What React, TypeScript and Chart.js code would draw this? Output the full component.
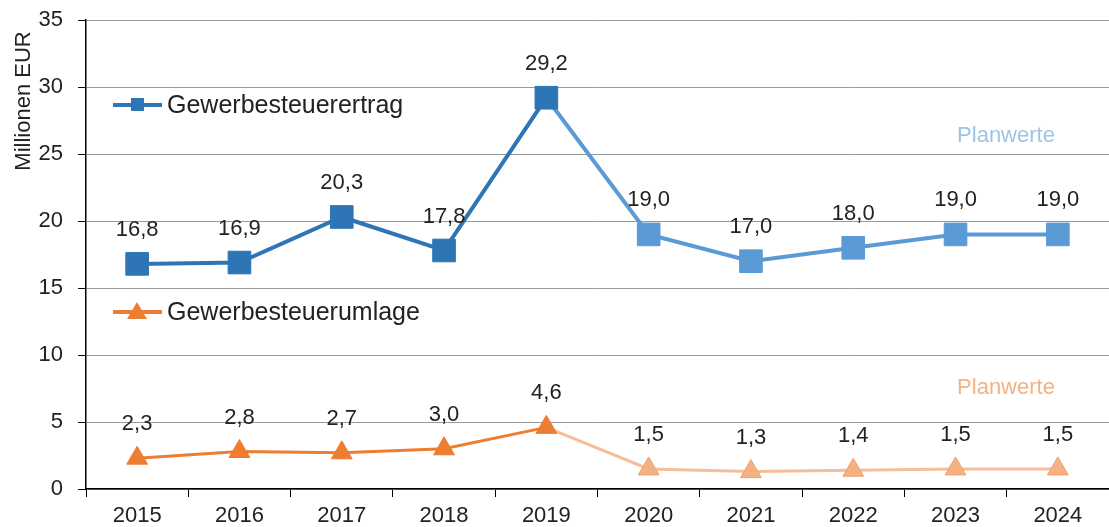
import React, { useEffect, useRef } from "react";
import { Chart, registerables } from "chart.js";

Chart.register(...registerables);

const years = ["2015", "2016", "2017", "2018", "2019", "2020", "2021", "2022", "2023", "2024"];
const ertrag = [16.8, 16.9, 20.3, 17.8, 29.2, 19.0, 17.0, 18.0, 19.0, 19.0];
const umlage = [2.3, 2.8, 2.7, 3.0, 4.6, 1.5, 1.3, 1.4, 1.5, 1.5];
const firstPlanIndex = 5;
const seriesNames = ["Gewerbesteuerertrag", "Gewerbesteuerumlage"];
const planLabel = "Planwerte";
const yTitle = "Millionen EUR";

const FONT = "'Liberation Sans', Arial, sans-serif";
const BLUE = "#2E75B6";
const BLUE_L = "#5B9BD5";
const ORANGE = "#ED7D31";
const ORANGE_L = "#F4B183";

const fmt = (v: number) => v.toFixed(1).replace(".", ",");

const overlay = {
  id: "overlay",
  afterDatasetsDraw(chart: any) {
    const ctx = chart.ctx;
    ctx.save();
    // data labels
    ctx.font = `22px ${FONT}`;
    ctx.fillStyle = "#222";
    ctx.textAlign = "center";
    ctx.textBaseline = "middle";
    chart.data.datasets.forEach((ds: any, di: number) => {
      const meta = chart.getDatasetMeta(di);
      meta.data.forEach((pt: any, i: number) => {
        ctx.fillText(fmt(ds.data[i]), pt.x, pt.y - 34);
      });
    });
    // legends
    const drawLegend = (y: number, color: string, style: string, text: string) => {
      ctx.strokeStyle = color;
      ctx.lineWidth = 4;
      ctx.beginPath();
      ctx.moveTo(113, y);
      ctx.lineTo(162, y);
      ctx.stroke();
      ctx.fillStyle = color;
      ctx.beginPath();
      if (style === "rect") {
        ctx.rect(131, y - 7, 13, 13);
      } else {
        ctx.moveTo(137, y - 10);
        ctx.lineTo(147, y + 7);
        ctx.lineTo(127, y + 7);
        ctx.closePath();
      }
      ctx.fill();
      ctx.fillStyle = "#222";
      ctx.font = `25px ${FONT}`;
      ctx.textAlign = "left";
      ctx.textBaseline = "middle";
      ctx.fillText(text, 167, y + 1);
    };
    drawLegend(105, BLUE, "rect", seriesNames[0]);
    drawLegend(312, ORANGE, "triangle", seriesNames[1]);
    // Planwerte
    ctx.font = `22px ${FONT}`;
    ctx.textAlign = "center";
    ctx.textBaseline = "middle";
    ctx.fillStyle = "#9DC3E6";
    ctx.fillText(planLabel, 1006, 136);
    ctx.fillStyle = ORANGE_L;
    ctx.fillText(planLabel, 1006, 388);
    // y title
    ctx.translate(30, 101);
    ctx.rotate(-Math.PI / 2);
    ctx.fillStyle = "#222";
    ctx.font = `22px ${FONT}`;
    ctx.textBaseline = "alphabetic";
    ctx.fillText(yTitle, 0, 0);
    ctx.restore();
  },
};

export default function App() {
  const ref = useRef<HTMLCanvasElement>(null);
  useEffect(() => {
    document.body.style.margin = "0";
    document.body.style.overflow = "hidden";
    const planColor = (dark: string, light: string) =>
      years.map((_, i) => (i >= firstPlanIndex ? light : dark));
    const chart = new Chart(ref.current!, {
      type: "line",
      data: {
        labels: years,
        datasets: [
          {
            label: seriesNames[0],
            data: ertrag,
            borderColor: BLUE,
            borderWidth: 4,
            pointStyle: "rect",
            pointRadius: 16,
            pointBackgroundColor: planColor(BLUE, BLUE_L),
            pointBorderColor: planColor(BLUE, BLUE_L),
            pointBorderWidth: 1,
            clip: false,
            segment: {
              borderColor: (c: any) => (c.p1DataIndex >= firstPlanIndex ? BLUE_L : BLUE),
            },
          },
          {
            label: seriesNames[1],
            data: umlage,
            borderColor: ORANGE,
            borderWidth: 3,
            pointStyle: "triangle",
            pointRadius: 12,
            pointBackgroundColor: planColor(ORANGE, ORANGE_L),
            pointBorderColor: planColor(ORANGE, "#F0A06A"),
            pointBorderWidth: 1,
            clip: false,
            segment: {
              borderColor: (c: any) => (c.p1DataIndex >= firstPlanIndex ? "#F6BE98" : ORANGE),
            },
          },
        ],
      },
      options: {
        responsive: false,
        animation: false,
        layout: { autoPadding: false, padding: { top: 20, right: -2, left: 0, bottom: 0 } },
        plugins: { legend: { display: false }, tooltip: { enabled: false } },
        scales: {
          x: {
            offset: true,
            grid: { drawOnChartArea: false, drawTicks: true, offset: true, tickLength: 8, color: "#000" },
            border: { color: "#000", width: 1.5 },
            ticks: { color: "#222", font: { family: FONT, size: 22 }, padding: 6 },
            afterFit: (s: any) => {
              s.height = 38;
              s.paddingLeft = 0;
              s.paddingRight = 0;
            },
          },
          y: {
            min: 0,
            max: 35,
            ticks: { stepSize: 5, color: "#222", font: { family: FONT, size: 22 }, padding: 15 },
            grid: { color: "#9a9a9a", lineWidth: 1, tickLength: 8, tickColor: "#000" },
            border: { color: "#000", width: 1.5 },
            afterFit: (s: any) => {
              s.width = 86;
              s.paddingTop = 0;
              s.paddingBottom = 0;
            },
          },
        },
      },
      plugins: [overlay],
    } as any);
    return () => chart.destroy();
  }, []);
  return (
    <div style={{ width: 1109, height: 527, overflow: "hidden" }}>
      <canvas ref={ref} width={1109} height={527} style={{ display: "block" }} />
    </div>
  );
}
